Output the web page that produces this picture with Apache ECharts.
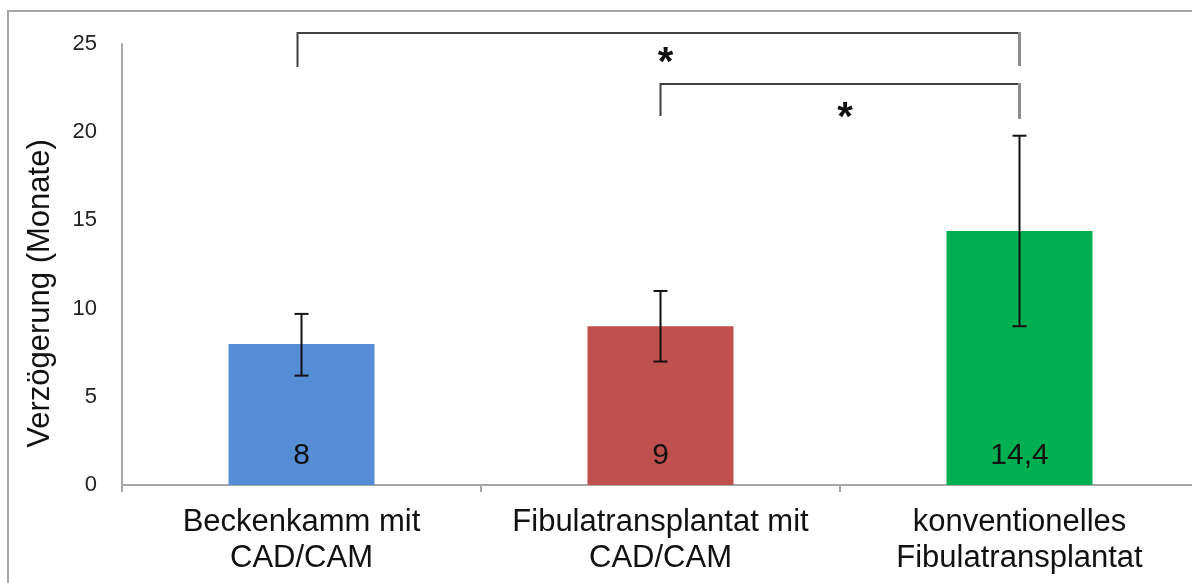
<!DOCTYPE html>
<html>
<head>
<meta charset="utf-8">
<script src="https://cdn.jsdelivr.net/npm/echarts@6/dist/echarts.min.js"></script>
<style>
html,body{margin:0;padding:0;background:#fff;}
#chart{width:1192px;height:583px;}
</style>
</head>
<body>
<div id="chart"></div>
<script>
// ---- data ----
const categories = ['Beckenkamm mit\nCAD/CAM', 'Fibulatransplantat mit\nCAD/CAM', 'konventionelles\nFibulatransplantat'];
const means = [8, 9, 14.4];
const valueLabels = ['8', '9', '14,4'];
const errLow = [6.2, 7.0, 9.0];
const errHigh = [9.7, 11.0, 19.8];
const barColors = ['#558ED5', '#C0504D', '#00B050'];
const yMin = 0, yMax = 25, yStep = 5;
const yTitle = 'Verzögerung (Monate)';
// brackets: [fromIndex, toIndex, topLevel, leftFoot, rightFoot]
const brackets = [[0, 2, 25.62, 23.7, 23.75], [1, 2, 22.73, 20.92, 20.75]];
// stars: [fromIndex, toIndex, level, text]
const stars = [[0, 2, 23.88, '*'], [1, 2, 20.77, '*']];

const chart = echarts.init(document.getElementById('chart'), null, {renderer: 'canvas'});
const FONT = 'Liberation Sans, Arial, sans-serif';

const option = {
  backgroundColor: '#fff',
  animation: false,
  graphic: [{
    type: 'rect', silent: true, z: -10,
    shape: {x: 8, y: 11, width: 1200, height: 600},
    style: {fill: null, stroke: '#a6a6a6', lineWidth: 2}
  }],
  grid: {left: 122, right: -7, top: 44, bottom: 98, containLabel: false, outerBoundsMode: 'none'},
  xAxis: {
    type: 'category',
    data: categories,
    axisLine: {show: true, lineStyle: {color: '#a6a6a6', width: 2}},
    axisTick: {show: true, length: 7, lineStyle: {color: '#a6a6a6', width: 2}},
    axisLabel: {interval: 0, fontSize: 31, lineHeight: 36, color: '#111', margin: 19, fontFamily: FONT},
    splitLine: {show: false}
  },
  yAxis: {
    type: 'value',
    min: yMin, max: yMax, interval: yStep,
    name: yTitle,
    nameLocation: 'middle',
    nameGap: 66,
    nameTextStyle: {fontSize: 31, color: '#111', fontFamily: FONT, padding: [0, 58, 0, 0]},
    axisLine: {show: true, lineStyle: {color: '#a6a6a6', width: 2}},
    axisTick: {show: false},
    splitLine: {show: false},
    axisLabel: {fontSize: 22, color: '#222', margin: 25, fontFamily: FONT}
  },
  series: [
    {
      type: 'bar',
      barWidth: 146,
      data: means.map((v, i) => ({value: v, itemStyle: {color: barColors[i]}})),
      label: {
        show: true, position: 'insideBottom', distance: 14,
        fontSize: 30, color: '#111', fontFamily: FONT,
        formatter: p => valueLabels[p.dataIndex]
      },
      z: 2
    },
    {
      type: 'custom',
      clip: false,
      z: 5,
      encode: {x: 0, y: [1, 2]},
      data: means.map((v, i) => [i, errLow[i], errHigh[i]]),
      renderItem: function (params, api) {
        const lo = api.coord([api.value(0), api.value(1)]);
        const hi = api.coord([api.value(0), api.value(2)]);
        const c = 7;
        const st = {stroke: '#111', lineWidth: 2};
        return {type: 'group', children: [
          {type: 'line', shape: {x1: hi[0], y1: hi[1], x2: lo[0], y2: lo[1]}, style: st},
          {type: 'line', shape: {x1: hi[0] - c, y1: hi[1], x2: hi[0] + c, y2: hi[1]}, style: st},
          {type: 'line', shape: {x1: lo[0] - c, y1: lo[1], x2: lo[0] + c, y2: lo[1]}, style: st}
        ]};
      }
    },
    {
      type: 'custom',
      clip: false,
      z: 5,
      encode: {x: 0, y: 2},
      data: brackets,
      renderItem: function (params, api) {
        const f = api.value(0), t = api.value(1);
        const a = api.coord([f, api.value(2)]);
        const b = api.coord([t, api.value(2)]);
        const aF = api.coord([f, api.value(3)]);
        const bF = api.coord([t, api.value(4)]);
        const dx = f === 0 ? -4 : 0;
        return {type: 'group', children: [
          {type: 'polyline', shape: {points: [[aF[0] + dx, aF[1]], [a[0] + dx, a[1]], [b[0], b[1]]]},
           style: {stroke: '#404040', lineWidth: 2, fill: null}},
          {type: 'line', shape: {x1: b[0], y1: b[1] - 1, x2: bF[0], y2: bF[1]},
           style: {stroke: '#8c8c8c', lineWidth: 3}}
        ]};
      }
    },
    {
      type: 'custom',
      clip: false,
      z: 5,
      encode: {x: 0, y: 2},
      data: stars,
      renderItem: function (params, api) {
        const a = api.coord([api.value(0), api.value(2)]);
        const b = api.coord([api.value(1), api.value(2)]);
        return {
          type: 'text',
          x: (a[0] + b[0]) / 2 + 5, y: a[1],
          style: {
            text: stars[params.dataIndex][3],
            fontSize: 40, fontWeight: 'bold', fontFamily: FONT,
            fill: '#111', align: 'center', verticalAlign: 'middle'
          }
        };
      }
    }
  ]
};
chart.setOption(option);
</script>
</body>
</html>
